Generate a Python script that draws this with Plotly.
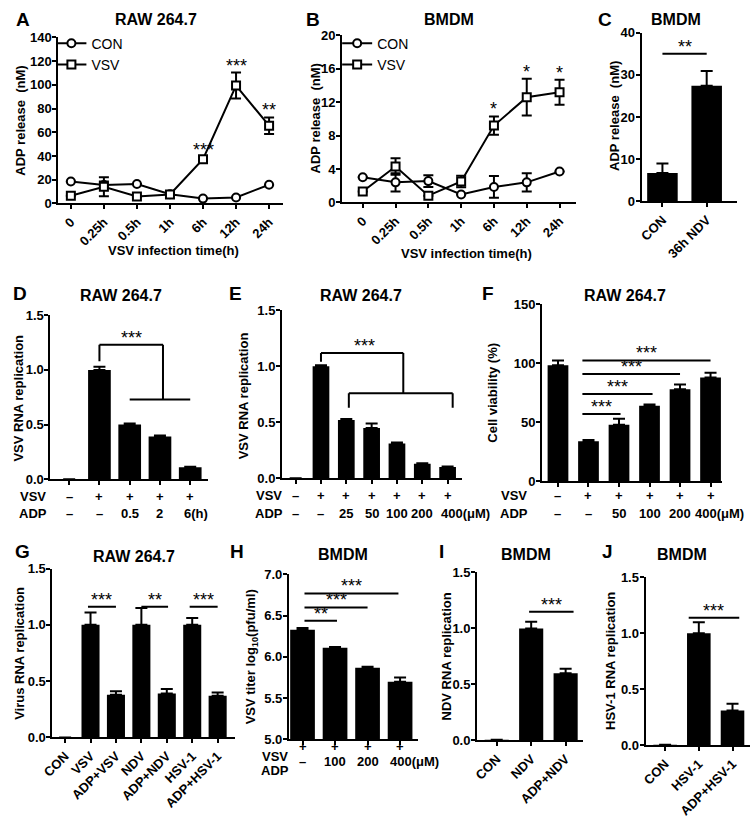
import plotly.graph_objects as go

# ---------------- data ----------------
time_labels = ["0", "0.25h", "0.5h", "1h", "6h", "12h", "24h"]

a_con = [18.5, 15.5, 16.3, 7.7, 4.0, 5.0, 15.7]
a_con_err = [0, 3, 0, 0, 0, 0, 0]
a_vsv = [6.4, 14.0, 5.8, 7.5, 37.3, 99.4, 65.5]
a_vsv_err = [0, 8, 0, 0, 2, 11, 7]
a_sig = ["", "", "", "", "***", "***", "**"]

b_con = [3.0, 2.4, 2.55, 0.95, 1.85, 2.4, 3.7]
b_con_err = [0, 1.1, 0.7, 0, 1.3, 1.1, 0]
b_vsv = [1.3, 4.3, 0.8, 2.5, 9.2, 12.6, 13.2]
b_vsv_err = [0, 1.0, 0, 0.7, 1.1, 2.2, 1.5]
b_sig = ["", "", "", "", "*", "*", "*"]

c_cats = ["CON", "36h NDV"]
c_vals = [6.7, 27.4]
c_err = [2.3, 3.5]

d_vals = [0, 1.0, 0.5, 0.39, 0.11]
d_err = [0, 0.03, 0.01, 0.01, 0.005]
d_vsv = ["–", "+", "+", "+", "+"]
d_adp = ["–", "–", "0.5", "2", "6(h)"]

e_vals = [0, 1.0, 0.52, 0.45, 0.31, 0.13, 0.10]
e_err = [0, 0.01, 0.01, 0.04, 0.01, 0.005, 0.005]
e_vsv = ["–", "+", "+", "+", "+", "+", "+"]
e_adp = ["–", "–", "25", "50", "100", "200", "400(μM)"]

f_vals = [98.5, 34, 48, 64, 78, 88]
f_err = [4, 1, 5, 1, 4, 4]
f_vsv = ["–", "+", "+", "+", "+", "+"]
f_adp = ["–", "–", "50", "100", "200", "400(μM)"]

g_cats = ["CON", "VSV", "ADP+VSV", "NDV", "ADP+NDV", "HSV-1", "ADP+HSV-1"]
g_vals = [0, 1.0, 0.38, 1.0, 0.39, 1.0, 0.37]
g_err = [0, 0.11, 0.03, 0.15, 0.04, 0.06, 0.03]

h_vals = [6.33, 6.11, 5.87, 5.70]
h_err = [0.02, 0.01, 0.01, 0.05]
h_vsv = ["+", "+", "+", "+"]
h_adp = ["–", "100", "200", "400(μM)"]

i_cats = ["CON", "NDV", "ADP+NDV"]
i_vals = [0.005, 1.0, 0.60]
i_err = [0, 0.06, 0.04]

j_cats = ["CON", "HSV-1", "ADP+HSV-1"]
j_vals = [0.005, 1.0, 0.31]
j_err = [0, 0.1, 0.06]

# ---------------- page geometry ----------------
FW, FH = 752, 822

FONT = "Liberation Sans"
TICKFONT = dict(family=FONT, size=13, color="black", weight="bold")
XTICKFONT = dict(family=FONT, size=13, color="black", weight="bold")
STAR = dict(family=FONT, size=18, color="black")

fig = go.Figure()
layout = dict(width=FW, height=FH, margin=dict(l=0, r=0, t=0, b=0, pad=0),
              paper_bgcolor="white", plot_bgcolor="white", showlegend=True,
              font=dict(family=FONT, color="black"))
annotations = []
shapes = []


def PX(x):
    return x / FW


def PY(y):
    return 1 - y / FH


def add_axes(n, xpx, ypx, xr, yr, dtick, fmt="", tickvals=None, ticktext=None, tickangle=0):
    xs = "" if n == 1 else str(n)
    common = dict(showline=True, linecolor="black", linewidth=2, ticks="outside",
                  ticklen=4, tickwidth=2, tickcolor="black", showgrid=False,
                  zeroline=False)
    layout["xaxis" + xs] = dict(domain=[PX(xpx[0]), PX(xpx[1])], range=xr, anchor="y" + xs,
                                tickmode="array", tickvals=tickvals, ticktext=ticktext,
                                tickangle=tickangle, tickfont=XTICKFONT, **common)
    layout["yaxis" + xs] = dict(domain=[PY(ypx[1]), PY(ypx[0])], range=yr, anchor="x" + xs,
                                dtick=dtick, tick0=yr[0], tickformat=fmt, tickfont=TICKFONT,
                                ticklabelstandoff=-2, **common)
    return ("x" + xs, "y" + xs)


def text(x, y, t, size=13, bold=True, angle=0, xanchor="center"):
    annotations.append(dict(
        x=PX(x), y=PY(y), xref="paper", yref="paper", text=t, showarrow=False, textangle=angle,
        xanchor=xanchor, yanchor="middle",
        font=dict(family=FONT, size=size, color="black", weight="bold" if bold else "normal")))


def line(ax, x0, y0, x1, y1):
    shapes.append(dict(type="line", xref=ax[0], yref=ax[1], x0=x0, y0=y0, x1=x1, y1=y1,
                       line=dict(color="black", width=2)))


def bars(ax, vals, err, width):
    idx = list(range(len(vals)))
    fig.add_trace(go.Bar(x=idx, y=vals, width=width, marker=dict(color="black", line=dict(width=0)),
                         error_y=dict(type="data", array=err, arrayminus=[0] * len(err),
                                      symmetric=False, color="black", thickness=2, width=6),
                         xaxis=ax[0], yaxis=ax[1], showlegend=False))


def stars(ax, x, y, label):
    annotations.append(dict(x=x, y=y, xref=ax[0], yref=ax[1], text=label,
                            showarrow=False, yanchor="bottom", yshift=-5, font=STAR))


def sig(ax, x0, x1, y, label):
    line(ax, x0, y, x1, y)
    stars(ax, (x0 + x1) / 2, y, label)


def rows(ax, labels_vsv, labels_adp, lab_x, y1, y2, unit_shift):
    text(lab_x, y1, "VSV")
    text(lab_x, y2, "ADP")
    f = dict(family=FONT, size=13, color="black", weight="bold")
    for i, (v, a) in enumerate(zip(labels_vsv, labels_adp)):
        annotations.append(dict(x=i, y=PY(y1), xref=ax[0], yref="paper", text=v,
                                showarrow=False, font=f))
        if "(" in a:
            annotations.append(dict(x=i, y=PY(y2), xref=ax[0], yref="paper", text=a,
                                    showarrow=False, xanchor="left", xshift=unit_shift, font=f))
        else:
            annotations.append(dict(x=i, y=PY(y2), xref=ax[0], yref="paper", text=a,
                                    showarrow=False, font=f))


def line_series(ax, vals, err, name, symbol, legend):
    fig.add_trace(go.Scatter(x=list(range(len(vals))), y=vals, mode="lines+markers", name=name,
                             line=dict(color="black", width=2),
                             marker=dict(symbol=symbol, size=8, color="white",
                                         line=dict(color="black", width=2)),
                             error_y=dict(type="data", array=err, color="black", thickness=2, width=5),
                             xaxis=ax[0], yaxis=ax[1], legend=legend, cliponaxis=False))


# ---------------- Panel A ----------------
axA = add_axes(1, (48, 276), (31, 200), [-0.38, 6.42], [0, 140], 20,
               tickvals=list(range(7)), ticktext=time_labels, tickangle=-45)
line_series(axA, a_con, a_con_err, "CON", "circle", "legend")
line_series(axA, a_vsv, a_vsv_err, "VSV", "square", "legend")
for i, s in enumerate(a_sig):
    if s:
        stars(axA, i, a_vsv[i] + a_vsv_err[i], s)
text(12, 13, "A", size=19)
text(147, 13, "RAW 264.7", size=16)
text(10, 116, "ADP release  (nM)", angle=-90)
text(165, 248, "VSV infection time(h)")

# ---------------- Panel B ----------------
axB = add_axes(2, (336, 573), (29, 199), [-0.63, 6.49], [0, 20], 4,
               tickvals=list(range(7)), ticktext=time_labels, tickangle=-45)
line_series(axB, b_con, b_con_err, "CON", "circle", "legend2")
line_series(axB, b_vsv, b_vsv_err, "VSV", "square", "legend2")
for i, s in enumerate(b_sig):
    if s:
        stars(axB, i, b_vsv[i] + b_vsv_err[i], s)
text(306, 13, "B", size=19)
text(445, 13, "BMDM", size=16)
text(309, 113, "ADP release  (nM)", angle=-90)
text(462, 251, "VSV infection time(h)")

legend_style = dict(bgcolor="rgba(0,0,0,0)", font=dict(family=FONT, size=14, color="black"),
                    xanchor="left", yanchor="top", tracegroupgap=0, itemwidth=30)
layout["legend"] = dict(x=PX(41), y=PY(21), **legend_style)
layout["legend2"] = dict(x=PX(331), y=PY(21), **legend_style)

# ---------------- Panel C ----------------
axC = add_axes(3, (640, 737), (26, 198), [-0.47, 1.69], [0, 40], 10,
               tickvals=[0, 1], ticktext=c_cats, tickangle=-45)
bars(axC, c_vals, c_err, 0.69)
sig(axC, 0, 1, 35, "**")
text(603, 13, "C", size=19)
text(675, 13, "BMDM", size=16)
text(613, 111, "ADP release  (nM)", angle=-90)

# ---------------- Panel D ----------------
axD = add_axes(4, (40, 200), (314, 481), [-0.62, 4.59], [0, 1.5], 0.5, ".1f",
               tickvals=list(range(5)), ticktext=[""] * 5)
bars(axD, d_vals, d_err, 0.75)
line(axD, 1, 1.08, 1, 1.23)
line(axD, 1, 1.23, 3.1, 1.23)
line(axD, 3.1, 1.23, 3.1, 0.73)
line(axD, 2, 0.73, 4, 0.73)
stars(axD, 2.05, 1.23, "***")
rows(axD, d_vsv, d_adp, 22, 499, 516, -8)
text(9, 292, "D", size=19)
text(112, 294, "RAW 264.7", size=16)
text(8, 398, "VSV RNA replication", angle=-90)

# ---------------- Panel E ----------------
axE = add_axes(5, (275, 458), (309, 480), [-0.54, 6.58], [0, 1.5], 0.5, ".1f",
               tickvals=list(range(7)), ticktext=[""] * 7)
bars(axE, e_vals, e_err, 0.66)
line(axE, 1, 1.04, 1, 1.12)
line(axE, 1, 1.12, 4.25, 1.12)
line(axE, 4.25, 1.12, 4.25, 0.76)
line(axE, 2.1, 0.76, 6.2, 0.76)
line(axE, 2.1, 0.76, 2.1, 0.63)
line(axE, 6.2, 0.76, 6.2, 0.63)
stars(axE, 2.7, 1.12, "***")
rows(axE, e_vsv, e_adp, 262, 498, 516, -9)
text(228, 292, "E", size=19)
text(355, 294, "RAW 264.7", size=16)
text(236, 396, "VSV RNA replication", angle=-90)

# ---------------- Panel F ----------------
axF = add_axes(6, (539, 722), (303, 483), [-0.52, 5.39], [0, 150], 50,
               tickvals=list(range(6)), ticktext=[""] * 6)
bars(axF, f_vals, f_err, 0.68)
sig(axF, 0.8, 5.0, 102.5, "***")
sig(axF, 0.8, 4.0, 91, "***")
sig(axF, 0.8, 3.1, 74, "***")
sig(axF, 0.8, 2.05, 57, "***")
rows(axF, f_vsv, f_adp, 510, 498, 516, -18)
text(484, 292, "F", size=19)
text(623, 294, "RAW 264.7", size=16)
text(489, 393, "Cell viability (%)", angle=-90)

# ---------------- Panel G ----------------
axG = add_axes(7, (42, 227), (572, 744), [-0.5, 6.67], [0, 1.5], 0.5, ".1f",
               tickvals=list(range(7)), ticktext=g_cats, tickangle=-45)
bars(axG, g_vals, g_err, 0.71)
sig(axG, 0.9, 2.0, 1.16, "***")
sig(axG, 3.0, 4.05, 1.16, "**")
sig(axG, 4.9, 6.0, 1.16, "***")
text(12, 555, "G", size=19)
text(125, 560, "RAW 264.7", size=16)
text(9, 658, "Virus RNA replication", angle=-90)

# ---------------- Panel H ----------------
axH = add_axes(8, (282, 413), (578, 746), [-0.42, 3.55], [5.0, 7.0], 0.5, ".1f",
               tickvals=list(range(4)), ticktext=[""] * 4)
bars(axH, h_vals, h_err, 0.76)
sig(axH, 0.06, 2.95, 6.77, "***")
sig(axH, 0.06, 2.0, 6.6, "***")
sig(axH, 0.06, 1.06, 6.44, "**")
rows(axH, h_vsv, h_adp, 268, 763, 778, -12)
text(229, 555, "H", size=19)
text(337, 558, "BMDM", size=16)
text(245, 662, "VSV titer log<sub>10</sub>(pfu/ml)", angle=-90)

# ---------------- Panel I ----------------
axI = add_axes(9, (473, 580), (576, 747), [-0.57, 2.49], [0, 1.5], 0.5, ".1f",
               tickvals=list(range(3)), ticktext=i_cats, tickangle=-45)
bars(axI, i_vals, i_err, 0.7)
sig(axI, 0.94, 2.23, 1.15, "***")
text(437, 555, "I", size=19)
text(523, 558, "BMDM", size=16)
text(442, 662, "NDV RNA replication", angle=-90)

# ---------------- Panel J ----------------
axJ = add_axes(10, (644, 750), (581, 752), [-0.58, 2.52], [0, 1.5], 0.5, ".1f",
               tickvals=list(range(3)), ticktext=j_cats, tickangle=-45)
bars(axJ, j_vals, j_err, 0.7)
sig(axJ, 0.7, 2.2, 1.14, "***")
text(605, 555, "J", size=19)
text(681, 558, "BMDM", size=16)
text(609, 666, "HSV-1 RNA replication", angle=-90)

layout["annotations"] = annotations
layout["shapes"] = shapes
layout["barmode"] = "overlay"
fig.update_layout(**layout)
fig.write_html("out.html", config={"displayModeBar": False, "staticPlot": True},
               post_script="document.body.style.margin='0px';document.body.style.overflow='hidden';")
